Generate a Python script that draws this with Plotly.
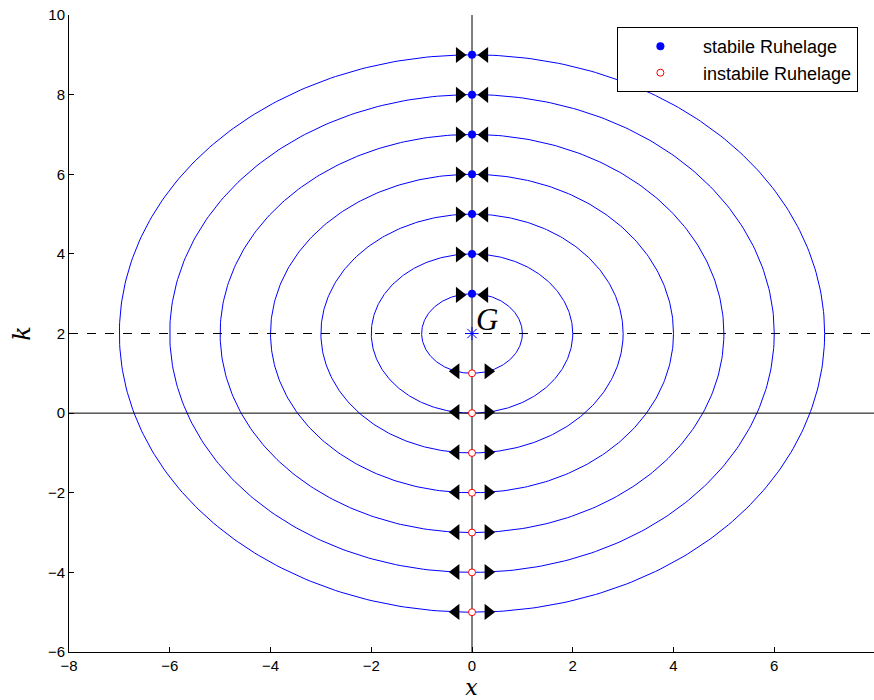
import numpy as np
import plotly.graph_objects as go

# data
center_k = 2.0
radii = [1, 2, 3, 4, 5, 6, 7]
stable_k = [3, 4, 5, 6, 7, 8, 9]
unstable_k = [1, 0, -1, -2, -3, -4, -5]
arrow_dx_top = 0.25
arrow_dx_bot = 0.32
x_ticks = [-8, -6, -4, -2, 0, 2, 4, 6, 8]
y_ticks = [-6, -4, -2, 0, 2, 4, 6, 8, 10]

fig = go.Figure()

theta = np.linspace(0, 2 * np.pi, 400)
for r in radii:
    fig.add_trace(go.Scatter(x=r * np.cos(theta), y=center_k + r * np.sin(theta),
                             mode="lines", line=dict(color="#0000ff", width=1),
                             showlegend=False, hoverinfo="skip"))

# axes lines
fig.add_trace(go.Scatter(x=[0, 0], y=[-6, 10], mode="lines",
                         line=dict(color="black", width=1), showlegend=False))
fig.add_trace(go.Scatter(x=[-8, 8], y=[0, 0], mode="lines",
                         line=dict(color="black", width=1), showlegend=False))
fig.add_trace(go.Scatter(x=[-8, 8], y=[center_k, center_k], mode="lines",
                         line=dict(color="black", width=1, dash="dash"), showlegend=False))

# arrows
def yk_on(r, dx, sign):
    return center_k + sign * np.sqrt(max(r * r - dx * dx, 0))

top_y = [yk_on(r, arrow_dx_top, 1) for r in radii]
bot_y = [yk_on(r, arrow_dx_bot, -1) for r in radii]
asz = 14
fig.add_trace(go.Scatter(x=[-arrow_dx_top] * len(radii), y=top_y, mode="markers",
                         marker=dict(symbol="triangle-right", size=asz, color="black"),
                         showlegend=False))
fig.add_trace(go.Scatter(x=[arrow_dx_top] * len(radii), y=top_y, mode="markers",
                         marker=dict(symbol="triangle-left", size=asz, color="black"),
                         showlegend=False))
fig.add_trace(go.Scatter(x=[-arrow_dx_bot] * len(radii), y=bot_y, mode="markers",
                         marker=dict(symbol="triangle-left", size=asz, color="black"),
                         showlegend=False))
fig.add_trace(go.Scatter(x=[arrow_dx_bot] * len(radii), y=bot_y, mode="markers",
                         marker=dict(symbol="triangle-right", size=asz, color="black"),
                         showlegend=False))

# equilibrium points
fig.add_trace(go.Scatter(x=[0] * len(stable_k), y=stable_k, mode="markers",
                         marker=dict(symbol="circle", size=8, color="#0000ff"),
                         name="stabile Ruhelage"))
fig.add_trace(go.Scatter(x=[0] * len(unstable_k), y=unstable_k, mode="markers",
                         marker=dict(symbol="circle", size=7, color="white",
                                     line=dict(color="red", width=1)),
                         name="instabile Ruhelage"))
fig.add_trace(go.Scatter(x=[0], y=[center_k], mode="markers",
                         marker=dict(symbol="asterisk", size=11,
                                     line=dict(color="#0000ff", width=1)),
                         showlegend=False))

fig.add_annotation(x=0.04, y=center_k, xref="x", yref="y", text="<i>G</i>",
                   showarrow=False, xanchor="left", yanchor="bottom", yshift=-5,
                   font=dict(family="Liberation Serif, serif", size=31, color="black"))

tickfont = dict(family="Liberation Sans, Arial, sans-serif", size=15, color="black")
fig.update_layout(
    width=874, height=700,
    margin=dict(l=69, r=0, t=15, b=48),
    plot_bgcolor="white", paper_bgcolor="white",
    xaxis=dict(range=[-8, 7.98], tickvals=x_ticks, showgrid=False, zeroline=False,
               showline=True, linecolor="black", linewidth=1, ticks="inside",
               ticklen=5, tickcolor="black", tickfont=tickfont,
               title=dict(text="<i>x</i>", standoff=7,
                          font=dict(family="DejaVu Serif, serif", size=22, color="black"))),
    yaxis=dict(range=[-6, 10], tickvals=y_ticks, showgrid=False, zeroline=False,
               showline=True, linecolor="black", linewidth=1, ticks="inside",
               ticklen=5, tickcolor="black", tickfont=tickfont,
               title=dict(text="<i>k</i>", standoff=10,
                          font=dict(family="DejaVu Serif, serif", size=24, color="black"))),
    legend=dict(x=0.98, y=0.981, xanchor="right", yanchor="top",
                bgcolor="white", bordercolor="black", borderwidth=1,
                font=dict(family="Liberation Sans, Arial, sans-serif", size=18, color="black"),
                tracegroupgap=0, itemwidth=75),
)

fig.write_html("out.html")
